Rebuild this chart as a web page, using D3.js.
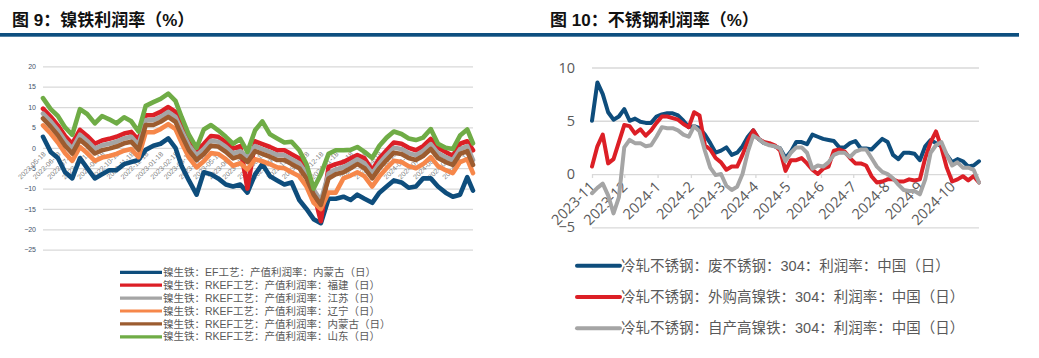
<!DOCTYPE html>
<html><head><meta charset="utf-8">
<script src="https://cdn.jsdelivr.net/npm/d3@7"></script>
<style>body{margin:0;background:#fff;}svg{display:block}</style>
</head><body>
<svg id="c" width="1039" height="358"></svg>
<script>
// ---------- LEFT CHART DATA (镍铁利润率) ----------
const leftDates = ["2022-05-18","2022-06-03","2022-06-18","2022-07-03","2022-07-18","2022-08-03","2022-08-18","2022-09-03","2022-09-18","2022-10-03","2022-10-18","2022-11-03","2022-11-18","2022-12-03","2022-12-18","2023-01-03","2023-01-18","2023-02-03","2023-02-18","2023-03-03","2023-03-18","2023-04-03","2023-04-18","2023-05-03","2023-05-18","2023-06-03","2023-06-18","2023-07-03","2023-07-18","2023-08-03","2023-08-18","2023-09-03","2023-09-18","2023-10-03","2023-10-18","2023-11-03","2023-11-18","2023-12-03","2023-12-18","2024-01-03","2024-01-18","2024-02-03","2024-02-18","2024-03-03","2024-03-18","2024-04-03","2024-04-18","2024-05-03","2024-05-18","2024-06-03","2024-06-18","2024-07-03","2024-07-18","2024-08-03","2024-08-18","2024-09-03","2024-09-18","2024-10-03","2024-10-18","2024-10-30"];
const leftNames = ["镍生铁：EF工艺：产值利润率：内蒙古（日）","镍生铁：RKEF工艺：产值利润率：福建（日）","镍生铁：RKEF工艺：产值利润率：江苏（日）","镍生铁：RKEF工艺：产值利润率：辽宁（日）","镍生铁：RKEF工艺：产值利润率：内蒙古（日）","镍生铁：RKEF工艺：产值利润率：山东（日）"];
const leftColors = ["#0e4d7c","#dc1f26","#a5a5a5","#f6874a","#9c5c30","#6fac46"];
const efNeimenggu = [2.7,-1,-2.5,-6,-7.5,-2.5,-5,-7.5,-6.5,-5.5,-5.5,-4,-3.5,-3,-0.5,0.5,1,2.3,0,-4.5,-8,-11.5,-6,-6.5,-7.5,-9,-9.5,-9,-11,-6.5,-4,-7,-8,-9,-8.5,-12.8,-15,-17.5,-18.5,-12.5,-12.5,-12,-12.8,-11.5,-12.5,-13.5,-11,-9.5,-8,-8.5,-9.8,-9.5,-7.5,-7.5,-9.5,-11,-12,-11.5,-7.2,-10.5];
const rkefFujian = [9.6,7.6,5.5,2.9,1,4.4,2.9,1,1.8,2.2,2.7,3.5,3.9,1.9,8,8,8.8,10,8.8,5.4,1.8,-0.6,0.9,2.9,2.7,1.4,-0.2,0.4,-10,1.6,0.9,0.2,-0.6,-0.6,-1.6,-2.6,-5.1,-11,-18,-4.7,-4,-3.5,-2.6,-1.8,-2.6,-5.5,-2.6,-0.6,1.3,1,0,-0.6,0.4,2.2,0,-1,-2,1,1.6,-0.6];
const rkefJiangsu = [8.4,6.5,4.3,1.7,-0.2,3.2,1.7,-0.2,0.6,1,1.5,2.3,2.7,0.7,6.8,6.8,7.6,8.8,7.6,4.2,0.6,-1.8,-0.3,1.7,1.5,0.2,-1.4,-0.8,-2.3,0.4,-0.3,-1,-1.8,-1.8,-2.8,-3.8,-6.3,-10.3,-13,-6.3,-5.3,-4.8,-3.8,-2.8,-3.8,-6.3,-3.8,-1.8,0,-0.3,-1.3,-1.8,-0.8,0.9,-1.3,-2.3,-3,-0.3,0.4,-3];
const rkefLiaoning = [5.5,3.5,1.3,-1.3,-3.2,0.2,-1.3,-3.2,-2.4,-2,-1.5,-0.7,-0.3,-2.3,3.8,3.8,4.6,5.8,4.6,1.2,-2.4,-4.8,-3.3,-1.3,-1.5,-2.8,-4.4,-3.8,-5.3,-2.8,-3.3,-4,-4.8,-5,-6,-7,-9.5,-13.5,-15,-11,-11,-7.5,-6.8,-6,-7,-9.5,-7,-5,-3.2,-3.5,-4.5,-5,-4,-2.3,-4.5,-5.5,-6.2,-3.5,-2.8,-6.2];
const rkefNeimenggu = [7.2,5.2,3.1,0.5,-1.4,2,0.5,-1.4,-0.6,-0.2,0.3,1.1,1.5,-0.5,5.6,5.6,6.4,7.6,6.4,3,-0.6,-3,-1.5,0.5,0.3,-1,-2.6,-2,-3.5,-0.8,-1.5,-2.2,-3,-3,-4,-5,-7.5,-11.5,-14,-7.5,-6.5,-6,-5,-4,-5,-7.5,-5,-3,-1.2,-1.5,-2.5,-3,-2,-0.3,-2.5,-3.5,-4.2,-1.5,-0.8,-4.2];
const rkefShandong = [12.2,9.5,7.8,5,3.2,9.5,8.3,6,7.8,7,6,7.5,6.5,4,10.3,11.2,12,13.3,11.5,7.5,3.2,0,4.5,5.6,4.3,2.7,1,2.2,-1,4.3,6.5,3.3,2.3,1.3,1.5,-0.6,-4,-10,-6.5,-1.5,-0.6,-0.6,-0.5,0.2,-1,-2.5,0.5,2.5,4,3.4,2.3,1.9,2.5,4.6,1,0,-0.3,3,4.5,1.1];
const leftYTicks = [20,15,10,5,0,-5,-10,-15,-20,-25];
const leftXTicks = ["2022-05-18","2022-06-18","2022-07-18","2022-08-18","2022-09-18","2022-10-18","2022-11-18","2022-12-18","2023-01-18","2023-02-18","2023-03-18","2023-04-18","2023-05-18","2023-06-18","2023-07-18","2023-08-18","2023-09-18","2023-10-18","2023-11-18","2023-12-18","2024-01-18","2024-02-18","2024-03-18","2024-04-18","2024-05-18","2024-06-18","2024-07-18","2024-08-18","2024-09-18","2024-10-18"];

// ---------- RIGHT CHART DATA (不锈钢利润率) ----------
const rightDates = ["2023-11-01","2023-11-06","2023-11-11","2023-11-16","2023-11-21","2023-11-26","2023-12-01","2023-12-06","2023-12-11","2023-12-16","2023-12-21","2023-12-26","2023-12-31","2024-01-05","2024-01-10","2024-01-15","2024-01-20","2024-01-25","2024-01-30","2024-02-04","2024-02-09","2024-02-14","2024-02-19","2024-02-24","2024-02-29","2024-03-05","2024-03-10","2024-03-15","2024-03-20","2024-03-25","2024-03-30","2024-04-04","2024-04-09","2024-04-14","2024-04-19","2024-04-24","2024-04-29","2024-05-04","2024-05-09","2024-05-14","2024-05-19","2024-05-24","2024-05-29","2024-06-03","2024-06-08","2024-06-13","2024-06-18","2024-06-23","2024-06-28","2024-07-03","2024-07-08","2024-07-13","2024-07-18","2024-07-23","2024-07-28","2024-08-02","2024-08-07","2024-08-12","2024-08-17","2024-08-22","2024-08-27","2024-09-01","2024-09-06","2024-09-11","2024-09-16","2024-09-21","2024-09-26","2024-10-01","2024-10-06","2024-10-11","2024-10-16","2024-10-21","2024-10-26"];
const rightNames = ["冷轧不锈钢：废不锈钢：304：利润率：中国（日）","冷轧不锈钢：外购高镍铁：304：利润率：中国（日）","冷轧不锈钢：自产高镍铁：304：利润率：中国（日）"];
const rightColors = ["#0e4d7c","#dc1f26","#a5a5a5"];
const scrap304 = [5.0,8.6,7.5,5.8,5.1,5.4,6.1,5.0,5.2,4.9,4.8,4.8,5.4,5.6,5.7,5.7,5.5,5.0,4.4,4.5,4.3,3.7,2.9,2.0,2.2,2.5,1.8,2.0,2.6,3.5,4.1,3.3,2.9,2.8,2.6,2.4,1.5,2.1,3.0,3.0,2.8,3.7,3.5,3.3,3.2,3.1,2.5,2.5,2.9,3.1,2.4,2.4,2.3,2.8,3.3,3.0,1.8,1.4,2.0,2.0,1.9,1.3,2.6,3.2,2.9,2.6,1.8,1.1,1.4,1.2,0.7,0.8,1.2];
const boughtNPI304 = [0.7,2.6,3.7,1.0,1.4,3.0,4.6,4.5,3.8,4.2,3.6,4.1,4.8,5.4,5.4,5.25,5.1,4.7,4.4,5.8,5.5,2.7,2.3,1.5,1.1,0.4,0.7,0.7,1.8,3.1,4.1,3.3,3.0,2.9,2.7,2.2,0.3,1.3,1.3,1.5,1.0,0.4,0.0,0.5,0.7,2.2,2.3,2.1,1.5,1.0,1.0,0.8,-0.2,-0.8,-0.7,-0.5,-0.5,-0.7,-0.7,-0.5,-0.6,-0.5,1.5,3.0,4.0,2.5,0.6,-0.7,-0.5,-0.2,-0.6,-0.2,-0.8];
const ownNPI304 = [-1.8,-1.3,-0.9,-2.0,-3.7,-2.2,2.5,3.2,2.9,2.9,2.6,2.7,3.5,4.4,4.3,4.3,4.1,3.7,3.5,4.5,4.0,2.2,0.6,-0.1,0.0,-1.1,-1.5,-1.2,0.0,2.1,3.6,3.3,2.9,2.7,2.6,2.4,1.2,2.0,2.5,2.5,2.0,0.5,0.8,0.7,1.1,1.8,2.0,2.0,1.6,2.1,2.3,2.3,1.5,0.7,0.2,0.0,-0.4,-1.0,-1.5,-1.6,-1.6,-1.9,-0.5,2.0,2.7,3.0,1.8,0.8,1.1,0.6,0.6,0.4,-0.8];
const rightYTicks = [10,5,0,-5];
const rightXTicks = ["2023-11-01","2023-12-01","2024-01-01","2024-02-01","2024-03-01","2024-04-01","2024-05-01","2024-06-01","2024-07-01","2024-08-01","2024-09-01","2024-10-01"];

// ---------- DRAW ----------
const parse = d3.timeParse("%Y-%m-%d");
const svg = d3.select("#c");
const LEGFONT = "'Liberation Sans','Noto Sans CJK SC',sans-serif";
const GRID = "#d9d9d9", LBL = "#595959";

svg.append("rect").attr("x",0).attr("y",33).attr("width",1019).attr("height",3.7).attr("fill","#0d4f7f");
svg.append("text").attr("x",12).attr("y",26).style("font","bold 17px 'Liberation Sans','Noto Sans CJK SC',sans-serif").attr("fill","#111").text("图 9：镍铁利润率（%）");
svg.append("text").attr("x",550).attr("y",26).style("font","bold 17px 'Liberation Sans','Noto Sans CJK SC',sans-serif").attr("fill","#111").text("图 10：不锈钢利润率（%）");

function styleAxis(g){
  g.select(".domain").remove();
  g.selectAll(".tick line").attr("stroke",GRID).attr("stroke-width",1.3);
}

// Left chart
const xL = d3.scaleTime().domain([parse("2022-05-18"),parse("2024-10-30")]).range([43,473]);
const yL = d3.scaleLinear().domain([-25,20]).range([249.7,66.3]);
const gyL = svg.append("g").attr("transform","translate(43,0)")
  .call(d3.axisLeft(yL).tickValues(leftYTicks).tickSize(-430).tickPadding(7));
styleAxis(gyL);
gyL.selectAll("text").attr("fill","#44546a").style("font","7px 'Liberation Sans',sans-serif");

const gxL = svg.append("g").attr("transform",`translate(0,${yL(0)})`)
  .call(d3.axisBottom(xL).tickValues(leftXTicks.map(parse)).tickFormat(d3.timeFormat("%Y-%m-%d")).tickSize(0));
gxL.select(".domain").remove();
gxL.selectAll("text").attr("fill","#7f7f7f").style("font","7px 'Liberation Sans',sans-serif")
  .attr("text-anchor","end").attr("x",0).attr("y",0).attr("dy","0.35em")
  .attr("transform","translate(1,5) rotate(-45)");

const leftSeries = [efNeimenggu,rkefFujian,rkefJiangsu,rkefLiaoning,rkefNeimenggu,rkefShandong];
const lineL = d3.line().x(d=>xL(d[0])).y(d=>yL(d[1]));
leftSeries.forEach((s,i)=>{
  svg.append("path").datum(leftDates.map((t,j)=>[parse(t),s[j]]))
    .attr("d",lineL).attr("fill","none").attr("stroke",leftColors[i])
    .attr("stroke-width",4.6).attr("stroke-linejoin","round").attr("stroke-linecap","round");
});

const legL = svg.append("g");
leftNames.forEach((n,i)=>{
  const y = 272.3 + i*12.9;
  legL.append("line").attr("x1",120).attr("x2",162).attr("y1",y).attr("y2",y).attr("stroke",leftColors[i]).attr("stroke-width",3.2);
  legL.append("text").attr("x",163).attr("y",y).attr("dy","0.35em").attr("fill",LBL).style("font",`10.5px ${LEGFONT}`).text(n);
});

// Right chart
const xR = d3.scaleTime().domain([parse("2023-11-01"),parse("2024-10-26")]).range([592,979]);
const yR = d3.scaleLinear().domain([-5,10]).range([227.3,67.5]);
const gyR = svg.append("g").attr("transform","translate(592,0)")
  .call(d3.axisLeft(yR).tickValues(rightYTicks).tickSize(-387).tickPadding(17));
styleAxis(gyR);
gyR.selectAll("text").attr("fill",LBL).style("font","14.5px 'Open Sans',sans-serif");

const gxR = svg.append("g").attr("transform",`translate(0,${yR(0)})`)
  .call(d3.axisBottom(xR).tickValues(rightXTicks.map(parse)).tickFormat(d3.timeFormat("%Y-%-m")).tickSize(4));
gxR.select(".domain").remove();
gxR.selectAll(".tick line").attr("stroke",GRID).attr("stroke-width",1.3);
gxR.selectAll("text").attr("fill",LBL).style("font","14.5px 'Open Sans',sans-serif")
  .attr("text-anchor","end").attr("x",0).attr("y",0).attr("dy","0.35em")
  .attr("transform","translate(0,10) rotate(-45)");

const rightSeries = [scrap304,boughtNPI304,ownNPI304];
const lineR = d3.line().x(d=>xR(d[0])).y(d=>yR(d[1]));
rightSeries.forEach((s,i)=>{
  svg.append("path").datum(rightDates.map((t,j)=>[parse(t),s[j]]))
    .attr("d",lineR).attr("fill","none").attr("stroke",rightColors[i])
    .attr("stroke-width",4).attr("stroke-linejoin","round").attr("stroke-linecap","round");
});

const legR = svg.append("g");
rightNames.forEach((n,i)=>{
  const y = 265.7 + i*31.3;
  legR.append("line").attr("x1",577).attr("x2",620).attr("y1",y).attr("y2",y).attr("stroke",rightColors[i]).attr("stroke-width",4).attr("stroke-linecap","round");
  legR.append("text").attr("x",621).attr("y",y).attr("dy","0.35em").attr("fill",LBL).style("font",`14.5px ${LEGFONT}`).text(n);
});
</script>
</body></html>
